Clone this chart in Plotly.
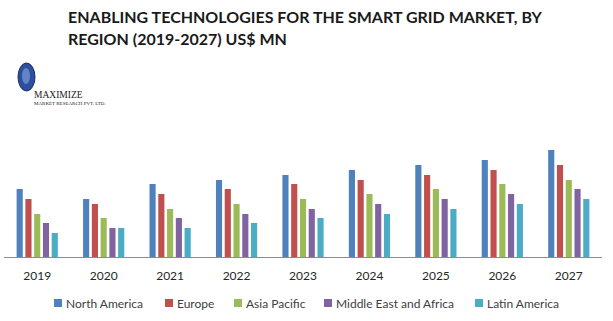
import plotly.graph_objects as go

# Market size by region, US$ MN
years = ["2019", "2020", "2021", "2022", "2023", "2024", "2025", "2026", "2027"]
north_america = [68, 58, 73, 77, 82, 87, 92, 97, 107]
europe = [58, 53, 63, 68, 73, 77, 82, 87, 92]
asia_pacific = [43, 39, 48, 53, 58, 63, 68, 73, 77]
middle_east_africa = [34, 29, 39, 43, 48, 53, 58, 63, 68]
latin_america = [24, 29, 29, 34, 39, 43, 48, 53, 58]

series_names = ["North America", "Europe", "Asia Pacific", "Middle East and Africa", "Latin America"]
series_values = [north_america, europe, asia_pacific, middle_east_africa, latin_america]
colors = ["#4F81BD", "#C0504D", "#9BBB59", "#8064A2", "#4BACC6"]

W, H = 613, 321
FONT = "Lato"
# plot area in pixels
PL, PR, PT, PB = 4, 602, 130, 257


def px_x(p):
    return (p - PL) / (PR - PL)


def px_y(p):
    return (PB - p) / (PB - PT)


fig = go.Figure()
for name, vals, col in zip(series_names, series_values, colors):
    fig.add_trace(go.Bar(x=years, y=vals, name=name, showlegend=False,
                         marker=dict(color=col, line=dict(width=0))))

fig.update_layout(
    width=W, height=H,
    margin=dict(l=PL, r=W - PR, t=PT, b=H - PB, pad=0),
    paper_bgcolor="white", plot_bgcolor="white",
    barmode="group", bargap=0.34, bargroupgap=0.3,
    font=dict(family=FONT, color="#404040", size=12),
    xaxis=dict(
        showline=True, linecolor="#8c8c8c", linewidth=1,
        ticks="outside", ticklen=8, tickcolor="rgba(0,0,0,0)",
        tickfont=dict(size=12, color="#262626"),
        showgrid=False, zeroline=False, fixedrange=True,
    ),
    yaxis=dict(range=[0, PB - PT], visible=False, showgrid=False, fixedrange=True),
    showlegend=False,
)

# Title, two lines
title_lines = ["ENABLING TECHNOLOGIES FOR THE SMART GRID MARKET, BY", "REGION (2019-2027) US$ MN"]
for line, yp in zip(title_lines, [16, 38]):
    fig.add_annotation(text="<b>" + line + "</b>", xref="paper", yref="paper",
                       x=px_x(66), y=px_y(yp), xanchor="left", yanchor="middle",
                       showarrow=False, font=dict(family=FONT, size=16, color="#1a1a1a"))

# Legend row: colour swatch followed by the series name
legend_x = [54, 165, 234, 324, 475]
LEG_Y = 303
for name, col, lx in zip(series_names, colors, legend_x):
    fig.add_shape(type="rect", xref="paper", yref="paper",
                  x0=px_x(lx), x1=px_x(lx + 8), y0=px_y(LEG_Y + 4), y1=px_y(LEG_Y - 4),
                  fillcolor=col, line=dict(width=0))
    fig.add_annotation(text=name, xref="paper", yref="paper",
                       x=px_x(lx + 10), y=px_y(LEG_Y), xanchor="left", yanchor="middle",
                       showarrow=False, font=dict(family=FONT, size=12, color="#404040"))

# Company logo: globe emblem with wordmark
fig.add_shape(type="circle", xref="paper", yref="paper",
              x0=px_x(18), x1=px_x(35), y0=px_y(91), y1=px_y(63),
              fillcolor="#2d4f9e", line=dict(color="#1c2f6b", width=1))
fig.add_shape(type="circle", xref="paper", yref="paper",
              x0=px_x(22), x1=px_x(30), y0=px_y(84), y1=px_y(68),
              fillcolor="#8fb3e3", line=dict(width=0), opacity=0.55)
fig.add_annotation(text="MAXIMIZE", xref="paper", yref="paper",
                   x=px_x(32), y=px_y(95), xanchor="left", yanchor="middle",
                   showarrow=False, font=dict(family="Liberation Serif", size=9.5, color="#222222"))
fig.add_annotation(text="MARKET RESEARCH PVT. LTD.", xref="paper", yref="paper",
                   x=px_x(32), y=px_y(103), xanchor="left", yanchor="middle",
                   showarrow=False, font=dict(family="Liberation Serif", size=5, color="#222222"))

fig.write_html("out.html")
